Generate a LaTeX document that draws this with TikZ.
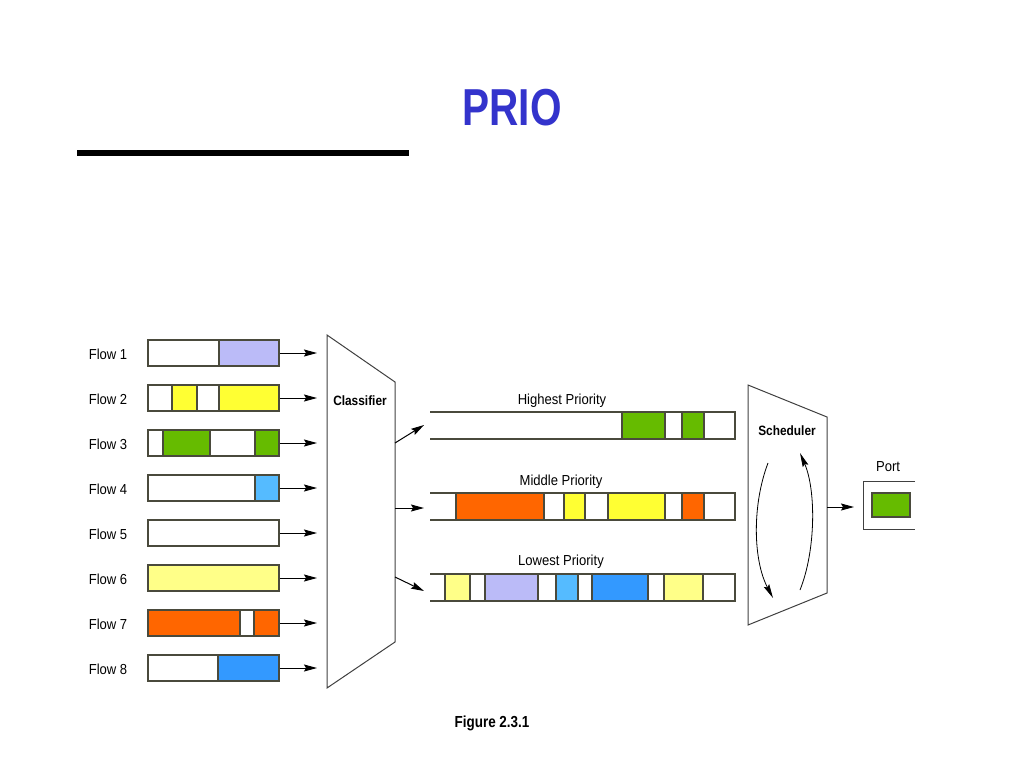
\documentclass[tikz,border=0pt]{standalone}
\usepackage{fontspec}
\usetikzlibrary{arrows.meta}
\newfontfamily\labfont[FakeStretch=0.9]{Liberation Sans}
\newfontfamily\boldfont[FakeStretch=0.88]{Liberation Sans}
\newfontfamily\titlefont[FakeStretch=0.78]{Liberation Sans}
\newfontfamily\capfont[FakeStretch=0.84]{Liberation Sans}
\definecolor{lav}{HTML}{BBBBF8}
\definecolor{yel}{HTML}{FFFF33}
\definecolor{lyel}{HTML}{FFFF88}
\definecolor{grn}{HTML}{66BB00}
\definecolor{lblu}{HTML}{55BBFF}
\definecolor{blu}{HTML}{3399FF}
\definecolor{org}{HTML}{FF6600}
\definecolor{tblue}{HTML}{3333CC}
\definecolor{edge}{HTML}{4A4A3C}
\newcommand{\segm}[5]{\filldraw[segbox,fill=#5] (#1,#3) rectangle (#2,#4);}
\begin{document}
\begin{tikzpicture}[x=1pt,y=-1pt,
  segbox/.style={draw=edge,line width=1.5pt},
  flowbox/.style={draw=edge,line width=1.5pt,minimum width=131pt,minimum height=27pt,inner sep=0pt},
  flowlab/.style={font=\labfont\fontsize{14.5}{16}\selectfont,anchor=base,inner sep=0pt},
  boldlab/.style={font=\boldfont\bfseries\fontsize{13.5}{15}\selectfont,anchor=base,inner sep=0pt},
  arr/.style={draw=black,line width=1pt,-{Stealth[length=13pt,width=7pt,inset=2pt]}},
  curv/.style={draw=black,line width=0.8pt,-{Stealth[length=14pt,width=6pt,inset=2pt]}},
  qline/.style={draw=edge,line width=2pt},
  outline/.style={draw=black!75,line width=1pt}]
\useasboundingbox (0,0) rectangle (1024,768);
% title
\node[anchor=base,inner sep=0pt,text=tblue,font=\titlefont\bfseries\fontsize{52}{56}\selectfont] (title) at (512,125) {PRIO};
\draw[line width=6pt] (77,153) -- (409,153);
% flows
\foreach \i/\y in {1/353,2/398,3/443,4/488,5/533,6/578,7/623,8/668}{
  \node[flowlab] (fl\i) at (108,\y+6) {Flow \i};
  \coordinate (fe\i) at (317,\y);
}
% flow 1
\segm{148}{219}{340}{366}{white}\segm{219}{279}{340}{366}{lav}
% flow 2
\segm{148}{172}{385}{411}{white}\segm{172}{197}{385}{411}{yel}\segm{197}{219}{385}{411}{white}\segm{219}{279}{385}{411}{yel}
% flow 3
\segm{148}{163}{430}{456}{white}\segm{163}{210}{430}{456}{grn}\segm{210}{255}{430}{456}{white}\segm{255}{279}{430}{456}{grn}
% flow 4
\segm{148}{255}{475}{501}{white}\segm{255}{279}{475}{501}{lblu}
% flow 5
\segm{148}{279}{520}{546}{white}
% flow 6
\segm{148}{279}{565}{591}{lyel}
% flow 7
\segm{148}{240}{610}{636}{org}\segm{240}{254}{610}{636}{white}\segm{254}{279}{610}{636}{org}
% flow 8
\segm{148}{218}{655}{681}{white}\segm{218}{279}{655}{681}{blu}
\foreach \i/\y in {1/353,2/398,3/443,4/488,5/533,6/578,7/623,8/668}{
  \node[flowbox] (f\i) at (213.5,\y) {};
  \draw[arr] (f\i.east) -- (fe\i);
}
% classifier
\coordinate (cTL) at (327,335);
\coordinate (cTR) at (395,382);
\coordinate (cBR) at (395,642);
\coordinate (cBL) at (327,688);
\draw[outline] (cTL) -- (cTR) -- (cBR) -- (cBL) -- cycle;
\node[boldlab] (cls) at (360,405) {Classifier};
\coordinate (co1) at (395,443);
\coordinate (co2) at (395,508);
\coordinate (co3) at (395,577);
\coordinate (qi1) at (424,425);
\coordinate (qi2) at (424,508);
\coordinate (qi3) at (424,591);
\draw[arr] (co1) -- (qi1);
\draw[arr] (co2) -- (qi2);
\draw[arr] (co3) -- (qi3);
% queues
\node[flowlab] (hp) at (562,404) {Highest Priority};
\node[flowlab] (mp) at (561,485) {Middle Priority};
\node[flowlab] (lp) at (561,565) {Lowest Priority};
% highest
\segm{622}{665}{412}{439}{grn}\segm{682}{704}{412}{439}{grn}
\draw[qline] (430,412) -- (735,412) -- (735,439) -- (430,439);
% middle
\segm{456}{544}{493}{520}{org}\segm{564}{585}{493}{520}{yel}\segm{608}{665}{493}{520}{yel}\segm{682}{704}{493}{520}{org}
\draw[qline] (430,493) -- (735,493) -- (735,520) -- (430,520);
% lowest
\segm{445}{470}{574}{601}{lyel}\segm{485}{538}{574}{601}{lav}\segm{556}{578}{574}{601}{lblu}\segm{592}{648}{574}{601}{blu}\segm{664}{703}{574}{601}{lyel}
\draw[qline] (430,574) -- (735,574) -- (735,601) -- (430,601);
% scheduler
\coordinate (sTL) at (748,385);
\coordinate (sTR) at (827,417);
\coordinate (sBR) at (827,593);
\coordinate (sBL) at (748,625);
\draw[outline] (sTL) -- (sTR) -- (sBR) -- (sBL) -- cycle;
\node[boldlab] (sch) at (787,435) {Scheduler};
\coordinate (a1s) at (768,463);
\coordinate (a1e) at (773,598);
\coordinate (a2s) at (800,590);
\coordinate (a2e) at (800,453);
\draw[curv] (a1s) .. controls (752,505) and (753,560) .. (a1e);
\draw[curv] (a2s) .. controls (816,550) and (816,490) .. (a2e);
\coordinate (so) at (827,507);
\coordinate (pi) at (854,507);
\draw[arr] (so) -- (pi);
% port
\node[flowlab] (portlab) at (888,471) {Port};
\draw[outline] (915,481) -- (863,481) -- (863,529) -- (915,529);
\node[draw=edge,line width=1.5pt,fill=grn,minimum width=38pt,minimum height=24pt,inner sep=0pt] (pkt) at (891,505) {};
% caption
\node[anchor=base,inner sep=0pt,font=\capfont\bfseries\fontsize{16}{18}\selectfont] (cap) at (492,727) {Figure 2.3.1};
\end{tikzpicture}
\end{document}
